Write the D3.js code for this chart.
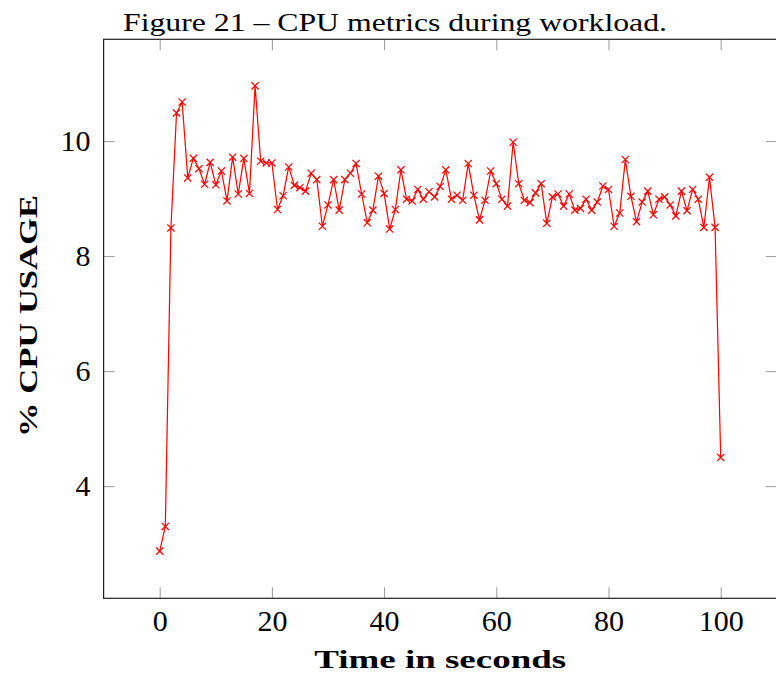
<!doctype html>
<html lang="en">

<head>
  <title>CPU metrics during workload</title>
  <meta charset="utf-8" />
  <script src="https://d3js.org/d3.v7.min.js"></script>
  <style>
    body { margin: 0; background: #fff; }
    svg text { font-family: "Liberation Serif", "DejaVu Serif", serif; fill: #000; }
  </style>
</head>

<body>
  <figure id="cpu-chart" style="margin:0"></figure>

  <script>
    // seconds 0..100, one sample per second
    const seconds = d3.range(0, 101);
    const cpuUsage = [
      2.87, 3.30, 8.49, 10.49, 10.68, 9.36, 9.70, 9.52, 9.25, 9.63,
      9.24, 9.48, 8.96, 9.72, 9.08, 9.70, 9.09, 10.96, 9.65, 9.62,
      9.62, 8.81, 9.05, 9.55, 9.23, 9.19, 9.13, 9.44, 9.33, 8.52,
      8.89, 9.33, 8.80, 9.33, 9.44, 9.61, 9.08, 8.58, 8.80, 9.39,
      9.09, 8.47, 8.81, 9.50, 8.99, 8.96, 9.16, 8.99, 9.12, 9.03,
      9.21, 9.50, 8.99, 9.06, 8.97, 9.61, 9.06, 8.63, 8.97, 9.48,
      9.26, 8.99, 8.87, 9.98, 9.26, 8.97, 8.93, 9.10, 9.26, 8.57,
      9.03, 9.08, 8.87, 9.08, 8.80, 8.83, 8.99, 8.80, 8.94, 9.22,
      9.16, 8.52, 8.75, 9.68, 9.04, 8.60, 8.94, 9.13, 8.72, 8.99,
      9.03, 8.89, 8.70, 9.13, 8.79, 9.16, 8.99, 8.50, 9.37, 8.50,
      4.50
    ];
    const xTicks = [0, 20, 40, 60, 80, 100];
    const yTicks = [4, 6, 8, 10];

    const chartTitle = "Figure 21 \u2013 CPU metrics during workload.";
    const xTitle = "Time in seconds";
    const yTitle = "% CPU USAGE";

    /* Build the chart once the page is ready. */
    window.onload = () => {
      const data = seconds.map((s, i) => ({ s: s, v: cpuUsage[i] }));
      makeLineChart(data);
    };

    function makeLineChart(data) {
      const params = {
        width: 776,
        height: 679,
        left: 103.6,
        top: 39.3,
        plotW: 673.2,
        plotH: 559,
        tickLen: 11
      };

      const svg = d3.select("#cpu-chart").append("svg")
        .attr("width", params.width)
        .attr("height", params.height);

      // pgfplots-style enlarged limits
      const xScale = d3.scaleLinear()
        .domain([-10, 110])
        .range([params.left, params.left + params.plotW]);

      const yScale = d3.scaleLinear()
        .domain([2.05, 11.77])
        .range([params.top + params.plotH, params.top]);

      const bottom = params.top + params.plotH;
      const right = params.left + params.plotW;

      // axes with inward ticks
      const xAxis = svg.append("g")
        .attr("transform", "translate(0," + bottom + ")")
        .call(d3.axisBottom(xScale).tickValues(xTicks)
          .tickSizeInner(-params.tickLen).tickSizeOuter(0).tickPadding(11));

      const xTop = svg.append("g")
        .attr("transform", "translate(0," + params.top + ")")
        .call(d3.axisTop(xScale).tickValues(xTicks)
          .tickSizeInner(-params.tickLen).tickSizeOuter(0).tickFormat(""));

      const yAxis = svg.append("g")
        .attr("transform", "translate(" + params.left + ",0)")
        .call(d3.axisLeft(yScale).tickValues(yTicks)
          .tickSizeInner(-params.tickLen).tickSizeOuter(0).tickPadding(13));

      const yRight = svg.append("g")
        .attr("transform", "translate(" + right + ",0)")
        .call(d3.axisRight(yScale).tickValues(yTicks)
          .tickSizeInner(-params.tickLen).tickSizeOuter(0).tickFormat(""));

      [xAxis, xTop, yAxis, yRight].forEach(g => {
        g.select(".domain").remove();
        g.selectAll(".tick line").attr("stroke", "#999").attr("stroke-width", 1);
        g.selectAll(".tick text")
          .attr("font-family", "Liberation Serif, DejaVu Serif, serif")
          .attr("font-size", 30)
          .attr("fill", "#000");
      });

      // frame
      svg.append("rect")
        .attr("x", params.left)
        .attr("y", params.top)
        .attr("width", params.plotW)
        .attr("height", params.plotH)
        .attr("fill", "none")
        .attr("stroke", "#222")
        .attr("stroke-width", 1.2);

      // data line
      const line = d3.line()
        .x(d => xScale(d.s))
        .y(d => yScale(d.v));

      svg.append("path")
        .datum(data)
        .attr("d", line)
        .attr("fill", "none")
        .attr("stroke", "#ff0000")
        .attr("stroke-width", 1.2)
        .attr("stroke-linejoin", "round");

      // x marks
      const m = 3.6;
      svg.append("g").selectAll("path.mark")
        .data(data)
        .enter()
        .append("path")
        .attr("class", "mark")
        .attr("transform", d => "translate(" + xScale(d.s) + "," + yScale(d.v) + ")")
        .attr("d", "M" + (-m) + "," + (-m) + "L" + m + "," + m + "M" + (-m) + "," + m + "L" + m + "," + (-m))
        .attr("stroke", "#ff0000")
        .attr("stroke-width", 1.2);

      // titles (wide serif, close to Computer Modern proportions)
      svg.append("text")
        .attr("x", 395)
        .attr("y", 31)
        .attr("text-anchor", "middle")
        .attr("font-family", "DejaVu Serif, serif")
        .attr("font-size", 24.5)
        .attr("textLength", 544)
        .attr("lengthAdjust", "spacingAndGlyphs")
        .text(chartTitle);

      svg.append("text")
        .attr("x", (params.left + right) / 2)
        .attr("y", 668)
        .attr("text-anchor", "middle")
        .attr("font-family", "DejaVu Serif, serif")
        .attr("font-size", 24.5)
        .attr("font-weight", "bold")
        .attr("textLength", 252)
        .attr("lengthAdjust", "spacingAndGlyphs")
        .text(xTitle);

      svg.append("text")
        .attr("transform", "translate(37,316) rotate(-90)")
        .attr("text-anchor", "middle")
        .attr("font-family", "DejaVu Serif, serif")
        .attr("font-size", 24.5)
        .attr("font-weight", "bold")
        .attr("textLength", 242)
        .attr("lengthAdjust", "spacingAndGlyphs")
        .text(yTitle);
    }
  </script>

</body></html>
